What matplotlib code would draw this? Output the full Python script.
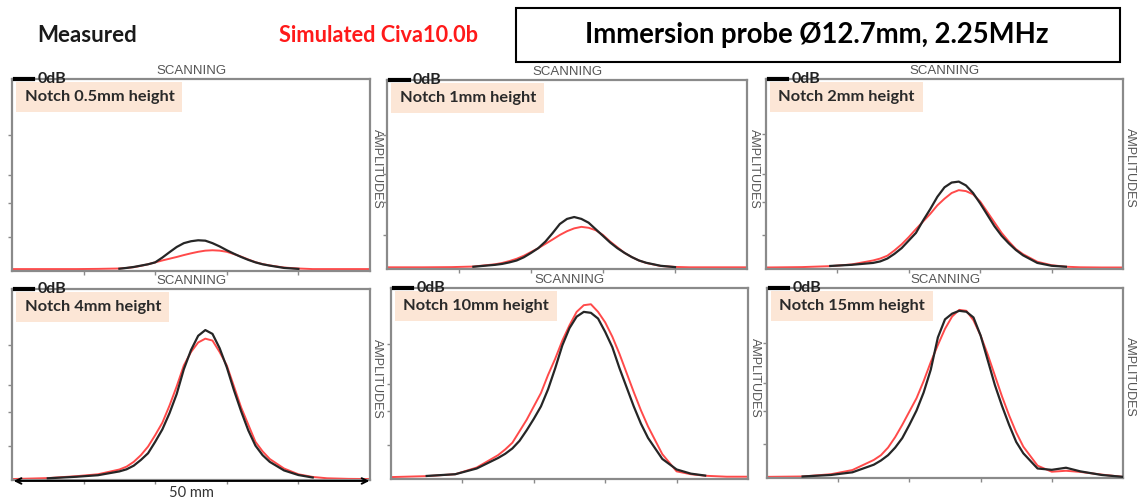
import matplotlib
matplotlib.use('Agg')
from matplotlib import pyplot as plt
from matplotlib.patches import Rectangle
import numpy as np

# scan position (mm), shared by all panels
scan_mm = [0, 5, 9, 12, 15, 16, 17, 18, 19, 20, 21, 22, 23, 24, 25, 26, 27,
           28, 29, 30, 31, 32, 33, 34, 35, 36, 38, 40, 42, 44, 47, 50]
nan = float('nan')

notch_labels = ['Notch 0.5mm height', 'Notch 1mm height', 'Notch 2mm height',
                'Notch 4mm height', 'Notch 10mm height', 'Notch 15mm height']

# amplitudes, 1.0 = 0dB
measured_05 = [nan, nan, nan, nan, 0.012, 0.016, 0.021, 0.028, 0.035, 0.045, 0.07, 0.098, 0.125, 0.145, 0.155, 0.16,
               0.158, 0.145, 0.128, 0.108, 0.09, 0.073, 0.058, 0.045, 0.035, 0.028, 0.016, 0.011, nan, nan, nan, nan]
simulated_05 = [0.01, 0.01, 0.01, 0.011, 0.013, 0.016, 0.02, 0.027, 0.035, 0.045, 0.055, 0.064, 0.073, 0.083, 0.092, 0.1,
                0.106, 0.108, 0.106, 0.1, 0.088, 0.075, 0.06, 0.046, 0.036, 0.029, 0.018, 0.013, 0.01, 0.01, 0.01, 0.01]

measured_1 = [nan, nan, nan, 0.012, 0.022, 0.027, 0.035, 0.045, 0.062, 0.085, 0.11, 0.145, 0.19, 0.238, 0.265, 0.275,
              0.265, 0.245, 0.21, 0.175, 0.14, 0.11, 0.085, 0.063, 0.045, 0.033, 0.017, 0.01, nan, nan, nan, nan]
simulated_1 = [0.009, 0.009, 0.01, 0.013, 0.025, 0.032, 0.042, 0.054, 0.07, 0.09, 0.11, 0.133, 0.156, 0.18, 0.2, 0.215,
               0.223, 0.218, 0.205, 0.18, 0.145, 0.115, 0.085, 0.063, 0.045, 0.032, 0.016, 0.011, 0.009, 0.009, 0.009, 0.009]

measured_2 = [nan, nan, 0.016, 0.022, 0.032, 0.04, 0.055, 0.08, 0.11, 0.15, 0.19, 0.255, 0.315, 0.38, 0.43, 0.455,
              0.46, 0.44, 0.4, 0.345, 0.285, 0.225, 0.175, 0.135, 0.1, 0.072, 0.032, 0.017, 0.012, nan, nan, nan]
simulated_2 = [0.008, 0.01, 0.015, 0.024, 0.045, 0.055, 0.07, 0.098, 0.13, 0.168, 0.21, 0.25, 0.29, 0.335, 0.37, 0.4,
               0.415, 0.41, 0.393, 0.355, 0.3, 0.245, 0.19, 0.145, 0.105, 0.078, 0.038, 0.02, 0.012, 0.009, 0.008, 0.008]

measured_4 = [nan, 0.009, 0.017, 0.025, 0.045, 0.056, 0.075, 0.105, 0.14, 0.2, 0.265, 0.35, 0.45, 0.58, 0.68, 0.755,
              0.785, 0.765, 0.69, 0.59, 0.47, 0.36, 0.26, 0.18, 0.13, 0.095, 0.05, 0.026, 0.013, nan, nan, nan]
simulated_4 = [0.005, 0.01, 0.02, 0.03, 0.055, 0.07, 0.095, 0.13, 0.175, 0.235, 0.3, 0.39, 0.49, 0.6, 0.67, 0.72,
               0.74, 0.73, 0.67, 0.6, 0.49, 0.38, 0.29, 0.2, 0.15, 0.11, 0.06, 0.03, 0.016, 0.009, 0.006, 0.005]

measured_10 = [nan, 0.016, 0.025, 0.055, 0.11, 0.132, 0.16, 0.2, 0.255, 0.315, 0.38, 0.47, 0.58, 0.7, 0.79, 0.85,
               0.875, 0.87, 0.84, 0.77, 0.69, 0.58, 0.48, 0.38, 0.29, 0.215, 0.105, 0.05, 0.028, 0.018, nan, nan]
simulated_10 = [0.01, 0.015, 0.025, 0.06, 0.125, 0.155, 0.19, 0.25, 0.31, 0.38, 0.45, 0.545, 0.63, 0.725, 0.805, 0.875,
                0.91, 0.915, 0.875, 0.82, 0.745, 0.655, 0.555, 0.455, 0.36, 0.275, 0.13, 0.04, 0.025, 0.017, 0.012, 0.012]

measured_15 = [nan, 0.008, 0.016, 0.03, 0.07, 0.092, 0.12, 0.16, 0.21, 0.28, 0.355, 0.45, 0.57, 0.74, 0.835, 0.865,
               0.88, 0.875, 0.845, 0.75, 0.62, 0.49, 0.38, 0.28, 0.19, 0.13, 0.05, 0.043, 0.054, 0.035, 0.016, 0.006]
simulated_15 = [0.006, 0.008, 0.02, 0.042, 0.095, 0.12, 0.16, 0.215, 0.28, 0.35, 0.42, 0.51, 0.61, 0.7, 0.785, 0.85,
                0.885, 0.88, 0.83, 0.75, 0.65, 0.54, 0.43, 0.33, 0.24, 0.165, 0.065, 0.033, 0.038, 0.032, 0.018, 0.006]

measured = [measured_05, measured_1, measured_2, measured_4, measured_10, measured_15]
simulated = [simulated_05, simulated_1, simulated_2, simulated_4, simulated_10, simulated_15]

db_ticks = [0.708, 0.5, 0.355, 0.178]   # -3, -6, -9, -15 dB
scan_ticks = [10, 20, 30, 40]

W, H = 1137, 499
fig = plt.figure(figsize=(W / 100, H / 100), dpi=100)

# panel frames in pixels: left, top, right, bottom
frames = [(12, 79, 370, 271), (387, 80, 747, 269), (766, 79, 1123, 269),
          (12, 289, 370, 480), (391, 288, 748, 479), (767, 288, 1123, 478)]

frame_col = '#8a8a8a'
for i, (l, t, r, b) in enumerate(frames):
    ax = fig.add_axes([l / W, 1 - b / H, (r - l) / W, (b - t) / H])
    ax.plot(scan_mm, simulated[i], color='#ff4a4a', lw=1.4, zorder=2, solid_joinstyle='round')
    ax.plot(scan_mm, measured[i], color='#262626', lw=1.6, zorder=3, solid_joinstyle='round')
    ax.set_xlim(0, 50)
    ax.set_ylim(0, 1)
    ax.set_xticks(scan_ticks)
    ax.set_yticks(db_ticks)
    ax.set_xticklabels([])
    ax.set_yticklabels([])
    ax.tick_params(length=3, width=1, color=frame_col, direction='out')
    for s in ax.spines.values():
        s.set_color(frame_col)
        s.set_linewidth(1.6)

    ax.text(0.5, 1.012, 'SCANNING', transform=ax.transAxes, ha='center', va='bottom',
            family='Liberation Sans', fontsize=9.5, color='#555555')
    ax.text(1.003, 0.53, 'AMPLITUDES', transform=ax.transAxes, rotation=270, ha='left', va='center',
            family='Liberation Sans', fontsize=9, color='#555555')

    # 0dB marker
    ax.plot([0.4, 3.0], [1, 1], color='black', lw=3, clip_on=False, zorder=5)
    ax.text(3.6, 1.0, '0dB', ha='left', va='center', family='Lato', fontweight='bold',
            fontsize=11.5, color='#222222', zorder=6)

    ax.text(0.035, 0.905, notch_labels[i], transform=ax.transAxes, ha='left', va='center',
            family='Lato', fontweight='bold', fontsize=11.8, color='#2a2a2a', zorder=4,
            bbox=dict(boxstyle='square,pad=0.5', facecolor='#fce6d6', edgecolor='none'))

    if i == 3:
        ax.annotate('', xy=(-0.003, -0.005), xytext=(1.006, -0.005), xycoords='axes fraction',
                    arrowprops=dict(arrowstyle='<->', color='black', lw=1.4), annotation_clip=False)
        ax.text(0.5, -0.03, '50 mm', transform=ax.transAxes, ha='center', va='top',
                family='Lato', fontsize=10.5, color='#333333')

fig.text(37 / W, 1 - 35 / H, 'Measured', ha='left', va='center', family='Lato',
         fontweight='bold', fontsize=16, color='#1a1a1a')
fig.text(279 / W, 1 - 35 / H, 'Simulated Civa10.0b', ha='left', va='center', family='Lato',
         fontweight='bold', fontsize=15.7, color='#ff1a1a')

fig.add_artist(Rectangle((516 / W, 1 - 62 / H), 604 / W, 54 / H, transform=fig.transFigure,
                         facecolor='white', edgecolor='black', lw=1.5))
fig.text(817 / W, 1 - 35 / H, 'Immersion probe Ø12.7mm, 2.25MHz', ha='center', va='center',
         family='Lato', fontweight='bold', fontsize=19.8, color='black')

fig.savefig('out.png', dpi=100)
